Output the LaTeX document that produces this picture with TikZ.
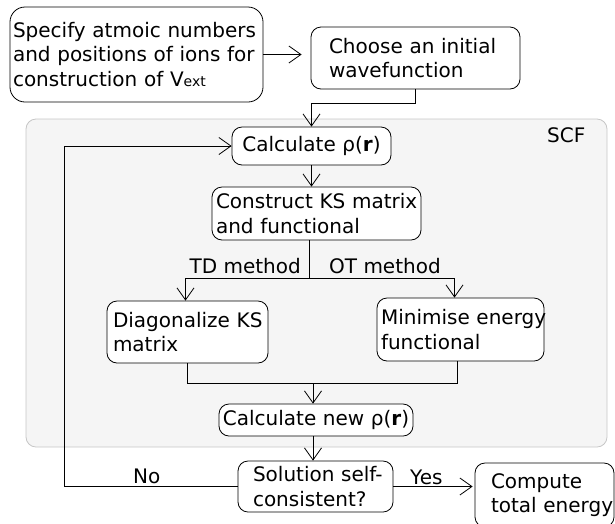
\documentclass[tikz,border=0pt]{standalone}
\usepackage{fontspec}
\setmainfont{DejaVu Sans}
\usetikzlibrary{arrows.meta,calc}
\begin{document}
\begin{tikzpicture}[x=1pt,y=-1pt,
  every node/.style={font=\fontsize{20}{24.5}\selectfont},
  box/.style={draw=black, line width=0.8pt, fill=white, rounded corners=10pt, inner ysep=0pt, align=left},
  arr/.style={draw=black, line width=0.8pt, -{Straight Barb[length=12pt,width=17pt]}},
  conn/.style={draw=black, line width=0.8pt},
  lbl/.style={inner sep=0pt, anchor=base west},
]
\useasboundingbox (0,0) rectangle (615,523);
\clip (0,0) rectangle (615,523);

% SCF background
\node[draw=gray!45, fill=gray!8, line width=0.8pt, rounded corners=10pt, minimum width=581pt, minimum height=328pt, inner sep=0pt] (scf) at (316.5,283) {};
\node[lbl] (scflbl) at (547,142) {SCF};

% boxes
\node[box, rounded corners=15pt, text width=247pt, inner xsep=3pt, minimum height=95pt] (A) at (136.5,54.5)
  {\mbox{Specify atmoic numbers}\\\mbox{and positions of ions for}\\\mbox{construction of V{\fontsize{14}{14}\selectfont ext}}};
\node[box, text width=173pt, inner xsep=18pt, minimum height=62pt] (B) at (415.5,58)
  {\mbox{Choose an initial}\\\mbox{wavefunction}};
\node[box, align=center, text width=151pt, inner xsep=4pt, minimum height=38pt] (C1) at (311.5,146)
  {\mbox{Calculate ρ(\textbf{r})}};
\node[box, text width=201pt, inner xsep=4pt, minimum height=53pt] (Cons) at (316.5,213.5)
  {\mbox{Construct KS matrix}\\\mbox{and functional}};
\node[box, text width=149pt, inner xsep=6pt, minimum height=62pt] (Diag) at (187.5,332)
  {\mbox{Diagonalize KS}\\\mbox{matrix}};
\node[box, text width=159pt, inner xsep=4pt, minimum height=63pt] (Min) at (460.5,329.5)
  {\mbox{Minimise energy}\\\mbox{functional}};
\node[box, align=center, text width=188pt, inner xsep=3pt, minimum height=32pt] (Cnew) at (316,420)
  {\mbox{Calculate new ρ(\textbf{r})}};
\node[box, text width=125pt, inner xsep=15pt, minimum height=51pt] (Sol) at (315.5,486.5)
  {\mbox{Solution self-}\\\mbox{consistent?}};
\node[box, text width=107pt, inner xsep=16pt, minimum height=64pt] (Comp) at (544.5,495)
  {\mbox{Compute}\\\mbox{total energy}};

% helper coordinates
\coordinate (br) at (309,278);
\coordinate (mg) at (313,383);
\coordinate (lp) at (64,300);

% connectors
\draw[arr, shorten >=9pt] (A.east) -- (A.east -| B.west);
\draw[arr] (B.south) -- ++(0,14) -| (C1.north);
\draw[arr] (C1.south) -- (C1.south |- Cons.north);
\draw[conn] (br |- Cons.south) -- (br);
\draw[arr] (br) -| ([xshift=-2pt]Diag.north);
\draw[arr] (br) -| ([xshift=-6pt]Min.north);
\draw[conn] (Diag.south) |- (mg);
\draw[conn] ([xshift=-3pt]Min.south) |- (mg);
\draw[arr] (mg) -- (mg |- Cnew.north);
\draw[arr] (Cnew.south -| mg) -- (mg |- Sol.north);
\draw[arr, shorten >=2pt] (Sol.east) -- (Sol.east -| Comp.west);
\draw[arr] (Sol.west) -| (lp |- C1.west) -- (C1.west);

% labels
\node[lbl, anchor=base east] (td) at (301,273) {TD method};
\node[lbl] (ot) at (329,273) {OT method};
\node[lbl] (no) at (133,483) {No};
\node[lbl] (yes) at (410,484) {Yes};
\end{tikzpicture}
\end{document}
